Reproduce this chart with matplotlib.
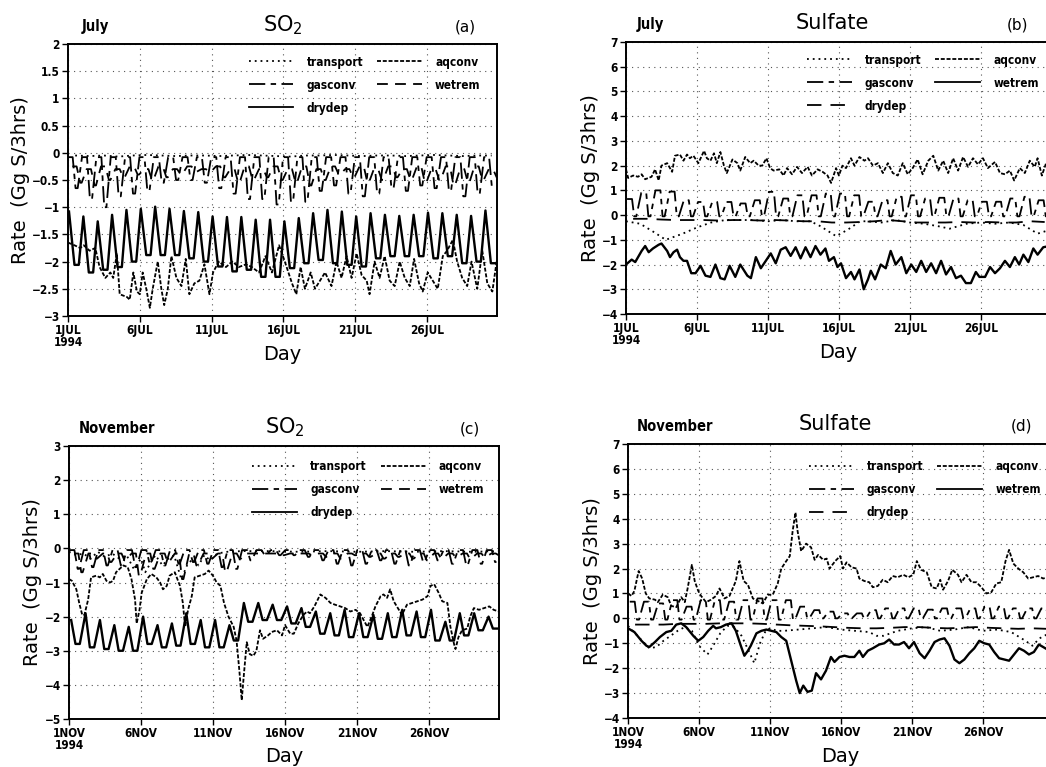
import numpy as np
import matplotlib.pyplot as plt
from matplotlib.lines import Line2D
from matplotlib.ticker import FuncFormatter

# ---------------- data: times in days since the 1st of the month ----------------
# (a) SO2, July
a_transport_t = [0.5 + n for n in range(30)]
a_transport = [-0.05, -0.06, -0.05, -0.07, -0.05, -0.04, -0.05, -0.06, -0.05, -0.05,
               -0.06, -0.05, -0.04, -0.05, -0.06, -0.07, -0.05, -0.05, -0.04, -0.05,
               -0.06, -0.05, -0.05, -0.06, -0.05, -0.04, -0.05, -0.06, -0.05, -0.05]
a_aqconv_t = [0.0, 0.45, 0.85, 1.1, 1.5, 1.9, 2.2, 2.6, 2.95, 3.15, 3.4, 3.6, 4.1, 4.3, 4.55, 4.8,
              5.0, 5.2, 5.45, 5.7, 5.9, 6.25, 6.5, 6.7, 6.95, 7.2, 7.55, 7.9, 8.2, 8.45, 8.8,
              9.15, 9.5, 9.85, 10.1, 10.5, 11.0, 11.45, 11.9, 12.4, 12.8, 13.3, 13.75, 14.2,
              14.7, 15.1, 15.6, 15.9, 16.2, 16.5, 16.9, 17.2, 17.55, 17.9, 18.35, 18.7, 19.05,
              19.4, 19.75, 20.1, 20.45, 20.8, 21.0, 21.35, 21.7, 22.05, 22.4, 22.75, 23.1,
              23.45, 23.8, 24.1, 24.45, 24.7, 25.05, 25.4, 25.75, 26.1, 26.4, 26.8, 27.1,
              27.45, 27.8, 28.1, 28.5, 28.85, 29.2, 29.55, 29.85]
a_aqconv = [-1.65, -1.7, -1.75, -1.7, -1.8, -1.75, -2.1, -2.3, -2.2, -2.3, -1.85, -2.6, -2.65,
            -2.7, -2.2, -2.55, -2.6, -2.2, -2.5, -2.85, -2.5, -2.0, -2.5, -2.8, -2.5, -1.9, -2.3,
            -2.45, -1.95, -2.6, -2.4, -2.35, -2.05, -2.6, -2.2, -2.0, -2.1, -2.0, -2.1, -2.05,
            -2.1, -2.2, -1.9, -2.2, -1.7, -2.0, -2.4, -2.6, -2.1, -2.5, -2.2, -2.5, -2.35, -2.2,
            -2.45, -2.0, -2.3, -1.9, -2.3, -1.85, -2.25, -2.35, -2.6, -2.0, -2.3, -1.9, -2.35,
            -2.45, -2.0, -2.3, -2.45, -1.95, -2.4, -2.55, -2.2, -2.35, -2.5, -1.9, -1.8, -1.6,
            -2.0, -2.3, -2.45, -2.0, -2.5, -1.8, -2.4, -2.55, -2.0]
a_gasconv_hi = [-0.08] * 30
a_gasconv_lo = [-0.65, -0.85, -1.0, -0.8, -0.75, -0.7, -0.55, -0.5, -0.5, -0.55,
                -0.65, -0.75, -0.85, -0.85, -0.95, -0.9, -0.9, -0.7, -0.6, -0.75,
                -0.8, -0.75, -0.65, -0.7, -0.6, -0.65, -0.7, -0.8, -0.75, -0.65]
a_wetrem_hi = [-0.25, -0.3, -0.25, -0.3, -0.25, -0.3, -0.25, -0.3, -0.25, -0.3,
               -0.25, -0.3, -0.25, -0.3, -0.25, -0.3, -0.25, -0.3, -0.25, -0.3,
               -0.25, -0.3, -0.25, -0.3, -0.25, -0.3, -0.25, -0.3, -0.25, -0.3]
a_wetrem_lo = [-0.55, -0.6, -0.5, -0.45, -0.4, -0.5, -0.45, -0.4, -0.35, -0.35,
               -0.45, -0.55, -0.5, -0.45, -0.5, -0.55, -0.6, -0.5, -0.4, -0.45,
               -0.55, -0.5, -0.45, -0.5, -0.55, -0.5, -0.6, -0.55, -0.5, -0.45]
a_drydep_hi = [-1.08, -1.17, -1.26, -1.14, -1.05, -1.03, -0.99, -1.03, -1.07, -1.09,
               -1.17, -1.18, -1.18, -1.23, -1.23, -1.26, -1.2, -1.11, -1.05, -1.08,
               -1.17, -1.11, -1.14, -1.16, -1.14, -1.1, -1.11, -1.14, -1.16, -1.06]
a_drydep_lo = [-2.06, -2.2, -2.15, -2.1, -2.0, -1.88, -1.88, -1.88, -1.94, -2.0,
               -2.09, -2.18, -2.15, -2.28, -2.28, -2.12, -2.03, -1.97, -2.03, -2.06,
               -2.09, -1.94, -1.9, -1.9, -1.9, -1.94, -1.9, -2.03, -2.0, -2.03]

# (b) Sulfate, July
b_transport_t = [0, 1, 2, 2.8, 4, 5, 6, 7, 8, 9, 10, 11, 12, 13, 13.7, 14.8, 15.6, 16.5, 17, 18,
                 19, 20, 21, 22, 22.8, 24, 25, 26, 27, 28, 29, 29.85]
b_transport = [-0.25, -0.35, -0.7, -1.0, -0.75, -0.5, -0.3, -0.2, -0.2, -0.2, -0.25, -0.2,
               -0.25, -0.25, -0.45, -0.85, -0.6, -0.25, -0.25, -0.3, -0.2, -0.3, -0.35, -0.45,
               -0.55, -0.35, -0.3, -0.35, -0.3, -0.4, -0.75, -0.6]
b_aqconv_t = [0, 0.15, 0.5, 0.85, 1.1, 1.35, 1.8, 2.05, 2.3, 2.5, 2.9, 3.25, 3.45, 3.8, 4.05, 4.3,
              4.5, 4.75, 5.1, 5.5, 5.7, 5.95, 6.2, 6.4, 6.65, 6.9, 7.1, 7.5, 7.85, 8.05, 8.4,
              8.75, 9.0, 9.35, 9.6, 9.9, 10.15, 10.4, 10.8, 11.1, 11.35, 11.7, 12.05, 12.4,
              12.8, 13.1, 13.5, 13.85, 14.2, 14.45, 14.8, 15.0, 15.25, 15.5, 15.85, 16.1,
              16.45, 16.8, 17.05, 17.4, 17.75, 18.1, 18.45, 18.8, 19.15, 19.5, 19.85, 20.2,
              20.55, 20.9, 21.3, 21.65, 22.0, 22.35, 22.7, 23.05, 23.4, 23.75, 24.1, 24.45,
              24.8, 25.15, 25.5, 26.0, 26.35, 26.7, 27.05, 27.35, 27.75, 28.1, 28.45, 28.8,
              29.0, 29.3, 29.6, 29.85]
b_aqconv = [1.85, 1.5, 1.6, 1.55, 1.65, 1.45, 1.55, 1.85, 1.4, 2.0, 2.1, 1.75, 2.4, 2.45, 2.2,
            2.45, 2.3, 2.4, 2.1, 2.6, 2.3, 2.2, 2.5, 2.1, 2.55, 2.0, 1.7, 2.25, 2.1, 1.8, 2.35,
            2.1, 2.2, 2.0, 2.0, 2.3, 1.9, 1.8, 1.85, 1.6, 1.9, 1.65, 1.95, 1.7, 1.95, 1.6, 1.85,
            1.75, 1.6, 1.3, 1.9, 1.6, 2.0, 1.9, 2.3, 2.0, 2.35, 2.2, 2.3, 2.0, 2.1, 1.7, 2.1,
            1.7, 1.6, 2.1, 1.65, 1.9, 2.25, 1.65, 2.2, 2.4, 1.8, 2.2, 1.7, 2.3, 1.8, 2.35, 1.95,
            2.3, 2.05, 2.3, 1.9, 2.15, 1.7, 1.65, 1.8, 1.4, 1.9, 1.7, 2.2, 1.95, 2.3, 1.6, 2.1,
            1.9]
b_gasconv_hi = [0.65, 0.9, 1.0, 0.95, 0.6, 0.53, 0.53, 0.53, 0.47, 0.6,
                0.94, 0.67, 0.8, 0.8, 0.87, 0.87, 0.8, 0.54, 0.6, 0.74,
                0.8, 0.67, 0.7, 0.67, 0.6, 0.54, 0.54, 0.67, 0.74, 0.6]
b_gasconv_lo = [-0.05] * 30
b_wetrem_t = [0, 0.4, 0.65, 1.1, 1.35, 1.6, 1.9, 2.3, 2.5, 2.9, 3.1, 3.35, 3.6, 3.8, 4.05, 4.3,
              4.6, 4.9, 5.25, 5.6, 5.95, 6.3, 6.65, 6.95, 7.3, 7.7, 8.05, 8.55, 8.8, 9.15, 9.5,
              9.85, 10.2, 10.55, 10.9, 11.25, 11.6, 11.95, 12.3, 12.65, 13.0, 13.35, 13.7, 14.05,
              14.3, 14.65, 14.9, 15.15, 15.5, 15.85, 16.1, 16.45, 16.75, 17.05, 17.25, 17.55,
              17.95, 18.3, 18.65, 19.0, 19.4, 19.75, 20.1, 20.45, 20.8, 21.15, 21.5, 21.85, 22.2,
              22.55, 22.9, 23.25, 23.6, 23.95, 24.3, 24.65, 24.9, 25.3, 25.65, 26.0, 26.35,
              26.7, 27.05, 27.4, 27.7, 28.0, 28.35, 28.7, 29.0, 29.4, 29.85]
b_wetrem = [-2.0, -1.8, -1.9, -1.45, -1.25, -1.5, -1.35, -1.2, -1.15, -1.45, -1.7, -1.5, -1.4,
            -1.7, -1.85, -1.85, -2.35, -2.35, -2.05, -2.45, -2.5, -2.0, -2.55, -2.6, -2.05, -2.5,
            -2.0, -2.45, -2.55, -1.7, -2.15, -1.85, -1.55, -1.95, -1.4, -1.3, -1.65, -1.3, -1.75,
            -1.3, -1.7, -1.25, -1.6, -1.35, -1.85, -1.7, -2.1, -1.95, -2.55, -2.3, -2.6, -2.2,
            -3.0, -2.6, -2.25, -2.6, -2.0, -2.15, -1.45, -2.0, -1.7, -2.35, -2.0, -2.3, -1.85,
            -2.3, -1.95, -2.35, -1.85, -2.4, -2.1, -2.55, -2.45, -2.75, -2.75, -2.3, -2.5, -2.5,
            -2.1, -2.35, -2.15, -1.85, -2.1, -1.7, -2.0, -1.6, -1.9, -1.35, -1.6, -1.3, -1.25]
b_drydep_t = [0.5 + n for n in range(30)]
b_drydep = [-0.15, -0.15, -0.18, -0.2, -0.2, -0.2, -0.22, -0.2, -0.2, -0.22,
            -0.2, -0.22, -0.25, -0.25, -0.3, -0.3, -0.28, -0.25, -0.2, -0.25,
            -0.3, -0.3, -0.3, -0.28, -0.3, -0.28, -0.3, -0.3, -0.25, -0.28]

# (c) SO2, November
c_transport_t = [0, 0.5, 1, 1.5, 2, 2.5, 3, 3.5, 4, 4.5, 5, 5.3, 5.7, 6, 6.5, 6.9, 7.3, 7.8, 8.2,
                 8.6, 9, 9.4, 9.8, 10.3, 11, 12, 14, 16, 18, 20, 22, 24, 26, 28, 29.85]
c_transport = [-0.1, -0.2, -0.15, -0.3, -0.1, -0.25, -0.15, -0.3, -0.2, -0.6, -0.3, -0.7, -0.4,
               -0.2, -0.5, -0.3, -0.2, -0.9, -0.5, -0.3, -0.5, -0.2, -0.35, -0.15, -0.1, -0.08,
               -0.08, -0.1, -0.08, -0.1, -0.08, -0.1, -0.08, -0.1, -0.08]
c_aqconv_t = [0, 0.2, 0.51, 0.71, 0.92, 1.07, 1.33, 1.53, 1.89, 2.14, 2.35, 2.6, 2.86, 3.06, 3.27,
              3.52, 3.78, 4.08, 4.34, 4.59, 4.7, 4.9, 5.05, 5.41, 5.72, 6.07, 6.33, 6.53, 6.79,
              6.99, 7.35, 7.71, 7.91, 8.07, 8.27, 8.53, 8.73, 9.09, 9.44, 9.7, 10.0, 10.26,
              10.52, 10.77, 11.08, 11.44, 11.64, 11.84, 12.0, 12.15, 12.35, 12.56, 12.81, 13.02,
              13.27, 13.48, 13.83, 14.09, 14.45, 14.8, 15.01, 15.37, 15.62, 15.93, 16.28, 16.54,
              16.74, 17.05, 17.46, 17.82, 18.17, 18.48, 18.84, 19.19, 19.55, 19.91, 20.22,
              20.47, 20.73, 21.03, 21.29, 21.65, 21.85, 22.1, 22.31, 22.56, 22.92, 23.13, 23.48,
              23.84, 24.2, 24.56, 24.91, 25.12, 25.37, 25.68, 25.93, 26.29, 26.5, 26.75, 26.85,
              27.06, 27.31, 27.67, 27.87, 28.13, 28.49, 28.84, 29.2, 29.5, 29.86]
c_aqconv = [-0.9, -0.95, -1.2, -1.6, -1.95, -1.95, -1.5, -0.85, -0.8, -0.85, -0.75, -0.95, -1.0,
            -0.95, -0.7, -0.6, -0.5, -0.55, -0.9, -1.5, -2.2, -1.8, -1.3, -0.9, -0.75, -0.85,
            -1.0, -1.2, -1.1, -0.8, -0.7, -1.1, -1.6, -2.3, -1.8, -1.4, -0.85, -0.8, -0.75,
            -0.65, -0.8, -1.0, -1.1, -1.6, -2.0, -2.3, -2.7, -3.6, -4.45, -3.7, -2.75, -3.1,
            -3.15, -3.0, -2.4, -2.65, -2.55, -2.45, -2.4, -2.55, -2.25, -2.5, -2.5, -2.2, -1.95,
            -1.85, -1.9, -1.7, -1.35, -1.45, -1.6, -1.65, -1.7, -1.75, -1.85, -1.8, -1.9, -2.1,
            -2.3, -2.0, -1.7, -1.4, -1.35, -1.45, -1.2, -1.55, -1.8, -1.95, -1.65, -1.6, -1.55,
            -1.5, -1.4, -1.1, -1.05, -1.3, -1.55, -1.6, -2.3, -2.8, -2.95, -2.6, -2.4, -2.35,
            -2.0, -1.75, -1.8, -1.75, -1.7, -1.8, -1.85]
c_gasconv_hi = [-0.05] * 30
c_gasconv_lo = [-0.6, -0.55, -0.5, -0.5, -0.55, -0.45, -0.5, -0.45, -0.4, -0.45,
                -0.55, -0.6, -0.35, -0.2, -0.2, -0.2, -0.25, -0.35, -0.45, -0.5,
                -0.45, -0.35, -0.45, -0.5, -0.4, -0.35, -0.45, -0.5, -0.45, -0.4]
c_wetrem_hi = [-0.15] * 30
c_wetrem_lo = [-0.7, -0.3, -0.4, -0.35, -0.8, -0.6, -0.4, -0.9, -0.5, -0.3,
               -0.7, -0.3, -0.15, -0.15, -0.2, -0.15, -0.2, -0.25, -0.3, -0.2,
               -0.25, -0.3, -0.25, -0.3, -0.35, -0.3, -0.25, -0.3, -0.25, -0.2]
c_drydep_hi = [-2.1, -1.9, -2.1, -2.25, -2.3, -2.0, -2.25, -2.2, -1.9, -2.1,
               -2.1, -2.25, -1.6, -1.6, -1.65, -1.7, -1.75, -1.85, -1.9, -1.8,
               -1.9, -1.95, -1.9, -1.8, -1.85, -1.8, -2.15, -1.9, -1.9, -2.0]
c_drydep_lo = [-2.8, -2.9, -2.95, -3.0, -3.0, -2.8, -2.9, -2.85, -2.8, -2.9,
               -2.9, -2.7, -2.15, -2.1, -2.1, -2.2, -2.3, -2.5, -2.55, -2.6,
               -2.6, -2.65, -2.6, -2.55, -2.6, -2.7, -2.7, -2.55, -2.4, -2.35]

# (d) Sulfate, November
d_transport_t = [0, 0.5, 1, 1.5, 2, 2.5, 3, 3.5, 4, 4.5, 5, 5.6, 6, 6.5, 7, 7.5, 8, 8.5, 8.9,
                 9.3, 9.7, 10, 10.5, 11, 12, 13, 14, 15, 16, 17, 17.5, 18, 18.5, 19, 20, 21, 22,
                 23, 24, 25, 26, 27, 28, 28.5, 29, 29.85]
d_transport = [-0.3, -0.6, -0.9, -1.2, -1.15, -0.9, -0.7, -0.5, -0.35, -0.5, -1.1, -1.45, -1.1,
               -0.6, -0.3, -0.35, -0.7, -1.3, -1.8, -1.0, -0.5, -0.4, -0.5, -0.5, -0.45, -0.4,
               -0.35, -0.45, -0.5, -0.55, -0.7, -0.7, -0.6, -0.5, -0.4, -0.35, -0.5, -0.45,
               -0.35, -0.5, -0.45, -0.55, -0.9, -1.1, -0.8, -0.55]
d_aqconv_t = [0, 0.25, 0.45, 0.75, 1.0, 1.25, 1.5, 1.9, 2.1, 2.45, 2.8, 3.05, 3.4, 3.75, 4.0, 4.2,
              4.5, 4.7, 4.95, 5.15, 5.5, 5.85, 6.2, 6.45, 6.8, 7.15, 7.6, 7.85, 8.15, 8.45, 8.8,
              9.15, 9.5, 9.85, 10.2, 10.55, 10.8, 11.15, 11.4, 11.6, 11.8, 11.95, 12.2, 12.55,
              12.9, 13.15, 13.4, 13.75, 14.0, 14.2, 14.6, 14.95, 15.15, 15.4, 15.75, 16.1, 16.3,
              16.65, 17.0, 17.25, 17.6, 17.95, 18.3, 18.65, 19.0, 19.4, 19.75, 20.1, 20.35,
              20.65, 21.05, 21.4, 21.75, 22.0, 22.2, 22.55, 22.85, 23.25, 23.5, 23.85, 24.2,
              24.55, 24.9, 25.25, 25.6, 25.95, 26.3, 26.6, 26.85, 27.15, 27.5, 27.85, 28.2,
              28.55, 28.9, 29.25, 29.6, 29.85]
d_aqconv = [1.0, 0.9, 1.1, 1.9, 1.6, 1.0, 0.8, 0.75, 0.65, 0.95, 0.85, 0.5, 0.45, 0.85, 0.65, 1.2,
            2.15, 1.5, 1.1, 0.9, 0.65, 0.75, 0.9, 1.2, 0.8, 0.9, 1.5, 2.3, 1.5, 1.35, 0.8, 0.7,
            0.6, 0.95, 0.95, 1.4, 2.0, 2.3, 2.5, 3.5, 4.25, 3.5, 2.7, 3.0, 2.85, 2.35, 2.55,
            2.35, 2.4, 2.0, 2.3, 2.5, 2.0, 2.25, 2.05, 2.0, 1.6, 1.5, 1.45, 1.25, 1.3, 1.55,
            1.45, 1.7, 1.65, 1.75, 1.65, 1.75, 2.3, 1.95, 1.85, 1.25, 1.2, 1.55, 1.15, 1.5, 1.95,
            1.75, 1.45, 1.75, 1.45, 1.45, 1.25, 1.0, 1.05, 1.4, 1.45, 2.3, 2.75, 2.2, 2.0, 1.85,
            1.6, 1.65, 1.7, 1.6, 1.65, 1.6]
d_gasconv_hi = [0.67, 0.67, 0.6, 0.73, 0.47, 0.73, 0.73, 0.67, 0.73, 0.8,
                0.73, 0.73, 0.47, 0.33, 0.27, 0.2, 0.2, 0.33, 0.4, 0.4,
                0.4, 0.35, 0.4, 0.4, 0.4, 0.47, 0.47, 0.4, 0.4, 0.4]
d_gasconv_lo = [-0.05] * 12 + [0.0] * 18
d_wetrem_t = [0, 0.45, 0.95, 1.3, 1.5, 1.9, 2.25, 2.7, 3.05, 3.4, 3.75, 4.1, 4.6, 4.95, 5.3, 5.65,
              6.0, 6.2, 6.55, 6.9, 7.3, 7.6, 7.95, 8.2, 8.45, 8.65, 9.05, 9.4, 9.75, 10.1, 10.45,
              10.8, 11.15, 11.5, 11.85, 12.1, 12.35, 12.65, 12.95, 13.25, 13.6, 13.95, 14.3,
              14.55, 14.9, 15.25, 15.6, 15.95, 16.3, 16.55, 16.9, 17.25, 17.7, 18.05, 18.4,
              18.75, 19.1, 19.45, 19.8, 20.15, 20.55, 20.9, 21.25, 21.6, 21.95, 22.3, 22.65,
              23.0, 23.35, 23.7, 24.05, 24.4, 24.75, 25.1, 25.45, 25.8, 26.15, 26.5, 26.85,
              27.2, 27.55, 27.9, 28.25, 28.6, 28.95, 29.4, 29.85]
d_wetrem = [-0.4, -0.55, -0.9, -1.1, -1.15, -0.95, -0.75, -0.55, -0.5, -0.25, -0.2, -0.35, -0.7,
            -0.9, -0.75, -0.5, -0.3, -0.4, -0.35, -0.25, -0.2, -0.5, -1.1, -1.5, -1.3, -1.1,
            -0.6, -0.5, -0.45, -0.5, -0.55, -0.75, -0.9, -1.7, -2.5, -3.0, -2.7, -2.95, -2.9,
            -2.2, -2.45, -2.1, -1.55, -1.75, -1.55, -1.5, -1.55, -1.55, -1.3, -1.55, -1.3,
            -1.2, -1.05, -1.0, -0.85, -1.05, -1.05, -0.95, -1.2, -0.95, -1.4, -1.6, -1.3, -0.95,
            -0.85, -0.8, -1.1, -1.65, -1.8, -1.65, -1.4, -1.2, -0.9, -1.0, -1.05, -1.35, -1.6,
            -1.65, -1.7, -1.45, -1.2, -1.3, -1.45, -1.35, -1.05, -1.2, -1.35]
d_drydep_t = [0.5 + n for n in range(30)]
d_drydep = [-0.25, -0.25, -0.25, -0.22, -0.22, -0.22, -0.2, -0.2, -0.2, -0.22,
            -0.25, -0.28, -0.3, -0.32, -0.35, -0.38, -0.4, -0.4, -0.38, -0.35,
            -0.35, -0.38, -0.4, -0.38, -0.35, -0.38, -0.4, -0.42, -0.4, -0.42]

jul_labels = ["1JUL\n1994", "6JUL", "11JUL", "16JUL", "21JUL", "26JUL"]
nov_labels = ["1NOV\n1994", "6NOV", "11NOV", "16NOV", "21NOV", "26NOV"]


def diurnal(hi, lo, t_hi, t_lo, w_hi=0.0, w_lo=0.0):
    # daily high/low values placed at their time of day, each held for a width
    t, v = [], []
    for n in range(len(hi)):
        pts = sorted([(n + t_hi - w_hi / 2, hi[n]), (n + t_hi + w_hi / 2, hi[n]),
                      (n + t_lo - w_lo / 2, lo[n]), (n + t_lo + w_lo / 2, lo[n])])
        for a, b in pts:
            t.append(a)
            v.append(b)
    return t, v


DOT = (0, (1, 2.2))
FINE = (0, (2.2, 1.0))
GAS = (0, (9, 3, 3, 3))
WET = (0, (6, 4))
DRY = (0, (8, 5))
SMALL = dict(family='DejaVu Sans', stretch='condensed', weight='bold')


def minus_fmt(v, pos):
    return ('%g' % v).replace('-', '\u2212')


def setup(ax, ylim, yticks, xlabels, ylab_dx):
    ax.set_xlim(0, 29.875)
    ax.set_ylim(*ylim)
    ax.set_yticks(yticks)
    ax.yaxis.set_major_formatter(FuncFormatter(minus_fmt))
    ax.set_xticks([0, 5, 10, 15, 20, 25])
    ax.set_xticklabels(xlabels, linespacing=0.85)
    ax.tick_params(direction='out', length=4, width=1, labelsize=8.5, pad=2)
    for lab in ax.get_xticklabels() + ax.get_yticklabels():
        lab.set_fontweight('bold')
        lab.set_fontstretch('condensed')
    ax.grid(True, linestyle=(0, (1, 4)), color='#555555', linewidth=0.8)
    for s in ax.spines.values():
        s.set_linewidth(1.4)
    h = ax.get_position().height * H
    w = ax.get_position().width * W
    ax.set_xlabel('Day', fontsize=14, va='center')
    ax.xaxis.set_label_coords(0.5, -38 / h)
    ax.set_ylabel('Rate  (Gg S/3hrs)', fontsize=14, va='center')
    ax.yaxis.set_label_coords(ylab_dx / w, 0.5)


def legend(ax, styles, anchor):
    names = ['transport', 'gasconv', 'drydep', 'aqconv', 'wetrem']
    handles = [Line2D([], [], color='k', lw=1.3, linestyle=styles[n]) for n in names]
    ax.legend(handles, names, ncol=2, loc='upper left', bbox_to_anchor=anchor,
              frameon=False, prop=dict(size=8.5, **SMALL),
              handlelength=3.8, handletextpad=1.1, columnspacing=1.2, labelspacing=0.85,
              borderaxespad=0)


fig = plt.figure(figsize=(10.46, 7.67), dpi=100)
W, H = 1046.0, 767.0


def place(l, t, r, b):
    return fig.add_axes([l / W, 1 - b / H, (r - l) / W, (b - t) / H])


def header(x_left, x_mid, x_right, y, left, mid, right):
    fig.text(x_left / W, 1 - y / H, left, fontsize=10.5, ha='center', va='center', **SMALL)
    fig.text(x_mid / W, 1 - (y - 2) / H, mid, fontsize=15, ha='center', va='center')
    fig.text(x_right / W, 1 - y / H, right, fontsize=11, ha='center', va='center')


# ---- (a)
ax = place(68, 44, 497, 316)
sty = {'transport': DOT, 'aqconv': FINE, 'gasconv': GAS, 'wetrem': WET, 'drydep': '-'}
ax.plot(a_transport_t, a_transport, color='k', lw=1.3, linestyle=DOT)
ax.plot(a_aqconv_t, a_aqconv, color='k', lw=1.3, linestyle=FINE)
t, v = diurnal(a_gasconv_hi, a_gasconv_lo, 0.15, 0.6, 0.35, 0.15)
ax.plot(t, v, color='k', lw=1.3, linestyle=GAS)
t, v = diurnal(a_wetrem_hi, a_wetrem_lo, 0.45, 0.9, 0.3, 0.1)
ax.plot(t, v, color='k', lw=1.3, linestyle=WET)
t, v = diurnal(a_drydep_hi, a_drydep_lo, 0.07, 0.6, 0.0, 0.3)
ax.plot(t, v, color='k', lw=1.7, linestyle='-')
setup(ax, (-3, 2), np.arange(-3, 2.01, 0.5), jul_labels, -47)
legend(ax, sty, (0.41, 0.975))
header(95, 283, 465, 27, 'July', 'SO$_2$', '(a)')

# ---- (b)
ax = place(626, 42, 1050, 314)
sty = {'transport': DOT, 'aqconv': FINE, 'gasconv': GAS, 'wetrem': '-', 'drydep': DRY}
ax.plot(b_transport_t, b_transport, color='k', lw=1.3, linestyle=DOT)
ax.plot(b_aqconv_t, b_aqconv, color='k', lw=1.3, linestyle=FINE)
t, v = diurnal(b_gasconv_hi, b_gasconv_lo, 0.25, 0.65, 0.35, 0.15)
ax.plot(t, v, color='k', lw=1.3, linestyle=GAS)
ax.plot(b_wetrem_t, b_wetrem, color='k', lw=1.7, linestyle='-')
ax.plot(b_drydep_t, b_drydep, color='k', lw=1.3, linestyle=DRY)
setup(ax, (-4, 7), np.arange(-4, 8, 1), jul_labels, -35)
legend(ax, sty, (0.415, 0.975))
header(650, 832, 1017, 25, 'July', 'Sulfate', '(b)')

# ---- (c)
ax = place(69, 446, 499, 719)
sty = {'transport': DOT, 'aqconv': FINE, 'gasconv': GAS, 'wetrem': WET, 'drydep': '-'}
ax.plot(c_transport_t, c_transport, color='k', lw=1.3, linestyle=DOT)
ax.plot(c_aqconv_t, c_aqconv, color='k', lw=1.3, linestyle=FINE)
t, v = diurnal(c_gasconv_hi, c_gasconv_lo, 0.2, 0.65, 0.35, 0.1)
ax.plot(t, v, color='k', lw=1.3, linestyle=GAS)
t, v = diurnal(c_wetrem_hi, c_wetrem_lo, 0.5, 0.9, 0.3, 0.1)
ax.plot(t, v, color='k', lw=1.3, linestyle=WET)
t, v = diurnal(c_drydep_hi, c_drydep_lo, 0.15, 0.6, 0.0, 0.3)
ax.plot(t, v, color='k', lw=1.7, linestyle='-')
setup(ax, (-5, 3), np.arange(-5, 4, 1), nov_labels, -36)
legend(ax, sty, (0.415, 0.965))
header(117, 285, 470, 429, 'November', 'SO$_2$', '(c)')

# ---- (d)
ax = place(628, 444, 1052, 718)
sty = {'transport': DOT, 'aqconv': FINE, 'gasconv': GAS, 'wetrem': '-', 'drydep': DRY}
ax.plot(d_transport_t, d_transport, color='k', lw=1.3, linestyle=DOT)
ax.plot(d_aqconv_t, d_aqconv, color='k', lw=1.3, linestyle=FINE)
t, v = diurnal(d_gasconv_hi, d_gasconv_lo, 0.3, 0.7, 0.35, 0.15)
ax.plot(t, v, color='k', lw=1.3, linestyle=GAS)
ax.plot(d_wetrem_t, d_wetrem, color='k', lw=1.7, linestyle='-')
ax.plot(d_drydep_t, d_drydep, color='k', lw=1.3, linestyle=DRY)
setup(ax, (-4, 7), np.arange(-4, 8, 1), nov_labels, -36)
legend(ax, sty, (0.415, 0.96))
header(675, 835, 1022, 426, 'November', 'Sulfate', '(d)')

fig.savefig('out.png', dpi=100)
